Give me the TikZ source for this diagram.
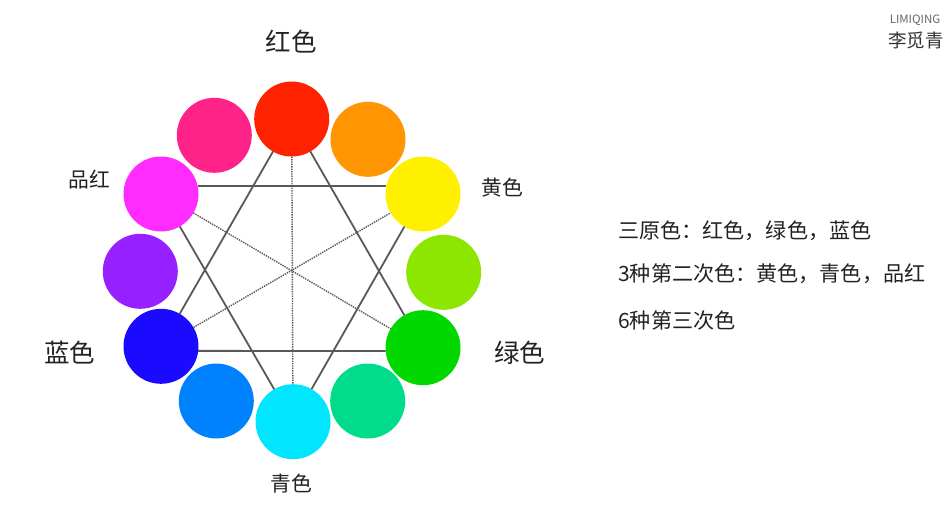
\documentclass[tikz,border=0pt]{standalone}
\usepackage{fontspec}
\setmainfont{Noto Sans CJK SC}
\usepackage{tikz}
\usetikzlibrary{positioning}
\definecolor{cred}{HTML}{FF2200}
\definecolor{corange}{HTML}{FF9500}
\definecolor{cyellow}{HTML}{FFF000}
\definecolor{clime}{HTML}{8CE600}
\definecolor{cgreen}{HTML}{00D800}
\definecolor{cteal}{HTML}{00DC8C}
\definecolor{ccyan}{HTML}{00E6FF}
\definecolor{cazure}{HTML}{0082FF}
\definecolor{cblue}{HTML}{1A0AFF}
\definecolor{cpurple}{HTML}{9620FF}
\definecolor{cmagenta}{HTML}{FF2BFF}
\definecolor{crose}{HTML}{FF2288}
\definecolor{ctext}{HTML}{222222}
\definecolor{cline}{HTML}{595959}

\begin{document}
\begin{tikzpicture}[
    x=1pt, y=-1pt,
    hue/.style={circle, minimum size=75pt, inner sep=0pt, outer sep=0pt},
    solid line/.style={draw=cline, line width=1.8pt},
    dot line/.style={draw=cline, line width=1.4pt, densely dotted},
    big/.style={font=\fontsize{25.5}{25.5}\selectfont, text=ctext, inner sep=0pt},
    mid/.style={font=\fontsize{20.8}{20.8}\selectfont, text=ctext, inner sep=0pt},
    note/.style={font=\fontsize{21.1}{21.1}\selectfont, text=ctext, inner sep=0pt, anchor=west}
]
\useasboundingbox (0,0) rectangle (947,528);

\node[hue, fill=cred] (red) at (291.7,119) {};
\node[hue, fill=corange] (orange) at (368,139.3) {};
\node[hue, fill=clime] (lime) at (443.7,272.3) {};
\node[hue, fill=cteal] (teal) at (367.7,401) {};
\node[hue, fill=cazure] (azure) at (216.3,401) {};
\node[hue, fill=cpurple] (purple) at (140.3,271.3) {};
\node[hue, fill=crose] (rose) at (214.3,135.3) {};
\node[hue, fill=cyellow] (yellow) at (423,194) {};
\node[hue, fill=cgreen] (green) at (423,347.7) {};
\node[hue, fill=ccyan] (cyan) at (293,421.7) {};
\node[hue, fill=cblue] (blue) at (161,346.3) {};
\node[hue, fill=cmagenta] (magenta) at (161,194) {};

\node[big] (redlbl) at (291,42) {红色};
\node[big] (bluelbl) at (69.5,353) {蓝色};
\node[big] (greenlbl) at (519.5,353) {绿色};
\node[mid] (magentalbl) at (89.5,180) {品红};
\node[mid] (yellowlbl) at (502.5,188) {黄色};
\node[mid] (cyanlbl) at (291.5,484) {青色};

\node[note] (primary) at (618,231) {三原色：红色，绿色，蓝色};
\node[note] (secondary) at (618,274) {3种第二次色：黄色，青色，品红};
\node[note] (tertiary) at (618,320) {6种第三次色};

\node[font=\fontsize{11.5}{11.5}\selectfont, text=black!60, inner sep=0pt] (logotop) at (915,20) {LIMIQING};
\node[font=\fontsize{18.5}{18.5}\selectfont, text=black!80, inner sep=0pt] (logo) at (916,40) {李觅青};

\draw[solid line] (red) -- (blue);
\draw[solid line] (red) -- (green);
\draw[solid line] (magenta) -- (cyan);
\draw[solid line] (yellow) -- (cyan);
\draw[solid line] (magenta.12) -- (yellow.168);
\draw[solid line] (blue.-7) -- (green.185);
\draw[dot line] (red) -- (cyan);
\draw[dot line] (magenta) -- (green);
\draw[dot line] (blue) -- (yellow);
\end{tikzpicture}
\end{document}
